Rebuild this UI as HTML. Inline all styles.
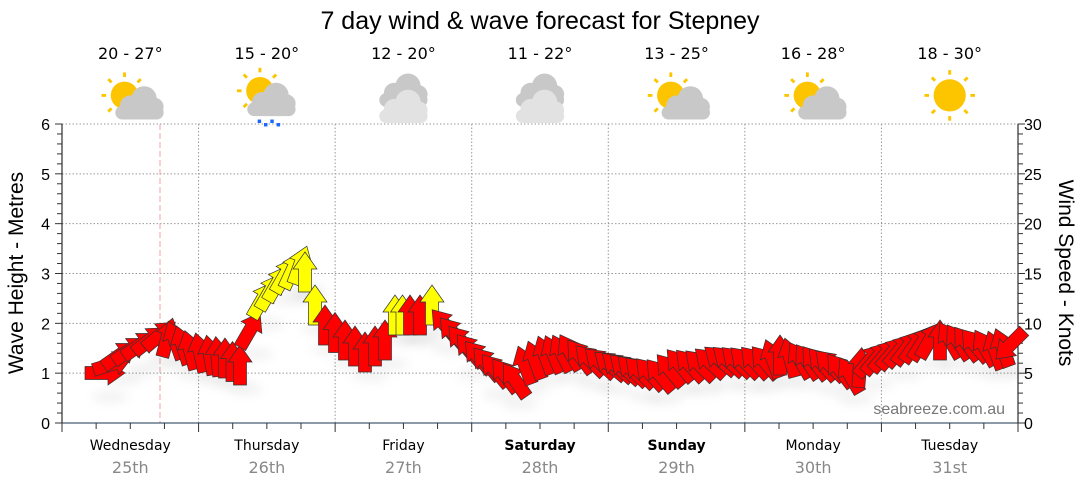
<!DOCTYPE html><html><head><style>body{margin:0;background:#fff}svg{display:block;font-family:"Liberation Sans",sans-serif}.v{font-family:"DejaVu Sans",sans-serif}</style></head><body>
<svg id="s" width="1080" height="490" xmlns="http://www.w3.org/2000/svg">
<defs><filter id="sh" x="-20%" y="-20%" width="140%" height="160%"><feGaussianBlur stdDeviation="5"/></filter></defs>
<text x="540" y="29" font-size="25" text-anchor="middle" fill="#000">7 day wind &amp; wave forecast for Stepney</text>
<g id="g"></g>
<text x="1005" y="414" font-size="16" fill="#777" text-anchor="end">seabreeze.com.au</text>
<text transform="translate(23,273) rotate(-90)" font-size="21" text-anchor="middle">Wave Height - Metres</text>
<text transform="translate(1059,273) rotate(90)" font-size="21" text-anchor="middle">Wind Speed - Knots</text>
</svg>
<script>
var g=document.getElementById('g'),h='';
var L=62,R=1018,T=124,B=423,D=136.57;
for(var i=1;i<=6;i++){var y=B-i*49.83;h+='<line x1="'+L+'" x2="'+R+'" y1="'+y+'" y2="'+y+'" stroke="#999" stroke-dasharray="1.5,2"/>';}
for(var i=1;i<7;i++){var x=L+i*D;h+='<line x1="'+x+'" x2="'+x+'" y1="'+T+'" y2="'+B+'" stroke="#999" stroke-dasharray="1.5,2"/>';}
h+='<line x1="160" x2="160" y1="'+T+'" y2="'+B+'" stroke="#f4a0a0" stroke-dasharray="6,3"/>';
h+='<line x1="'+L+'" x2="'+L+'" y1="'+T+'" y2="'+B+'" stroke="#000"/>';
h+='<line x1="'+R+'" x2="'+R+'" y1="'+T+'" y2="'+B+'" stroke="#000"/>';
h+='<line x1="'+L+'" x2="'+R+'" y1="'+B+'" y2="'+B+'" stroke="#1a3550"/>';
for(var i=0;i<=30;i++){var y=B-i*9.967;h+='<line x1="'+(i%5?L-5:L-7)+'" x2="'+L+'" y1="'+y+'" y2="'+y+'" stroke="#333"/>';h+='<line x1="'+R+'" x2="'+(i%5?R+5:R+7)+'" y1="'+y+'" y2="'+y+'" stroke="#333"/>';}
for(var i=0;i<=6;i++){h+='<text x="50" y="'+(B-i*49.83+6)+'" font-size="16" text-anchor="end">'+i+'</text>';h+='<text x="1024" y="'+(B-i*49.83+6)+'" font-size="16">'+(i*5)+'</text>';}
for(var i=0;i<=28;i++){var x=L+i*D/4;h+='<line x1="'+x+'" x2="'+x+'" y1="'+B+'" y2="'+(B+(i%4?6:9))+'" stroke="#333"/>';}
var days=['Wednesday','Thursday','Friday','Saturday','Sunday','Monday','Tuesday'],dt=['25th','26th','27th','28th','29th','30th','31st'],tp=['20 - 27°','15 - 20°','12 - 20°','11 - 22°','13 - 25°','16 - 28°','18 - 30°'];
var ic=['ps','pr','c','c','ps','ps','s'];
function sun(x,y,r){var s='';for(var k=0;k<8;k++){var a=k*Math.PI/4;s+='<line x1="'+(x+Math.cos(a)*(r+4))+'" y1="'+(y+Math.sin(a)*(r+4))+'" x2="'+(x+Math.cos(a)*(r+8))+'" y2="'+(y+Math.sin(a)*(r+8))+'" stroke="#fdc500" stroke-width="2.5"/>';}return s+'<circle cx="'+x+'" cy="'+y+'" r="'+r+'" fill="#fdc500"/>';}
function cloud(x,y,c){return '<g fill="'+c+'"><circle cx="'+(x-8)+'" cy="'+(y+2)+'" r="9"/><circle cx="'+(x+4)+'" cy="'+(y-4)+'" r="11"/><circle cx="'+(x+13)+'" cy="'+(y+3)+'" r="8"/><rect x="'+(x-21)+'" y="'+(y+2)+'" width="42" height="12" rx="6"/></g>';}
for(var i=0;i<7;i++){var cx=L+D*(i+0.5);
 h+='<text class="v" x="'+cx+'" y="'+(B+27)+'" font-size="14" text-anchor="middle"'+(i==3||i==4?' font-weight="bold"':'')+'>'+days[i]+'</text>';
 h+='<text class="v" x="'+cx+'" y="'+(B+50)+'" font-size="16" fill="#888" text-anchor="middle">'+dt[i]+'</text>';
 h+='<text class="v" x="'+cx+'" y="59" font-size="16" text-anchor="middle">'+tp[i]+'</text>';
 var t=ic[i],s='';
 if(t=='ps'){s=sun(cx-5,96,12)+cloud(cx+8,103,'#c8c8c8');}
 if(t=='pr'){s=sun(cx-6,92,12)+cloud(cx+4,100,'#c8c8c8');for(var k=0;k<4;k++)s+='<rect x="'+(cx-8+k*5.5)+'" y="'+(117+(k%2?3:0))+'" width="3" height="3" fill="#1a66ff"/>';}
 if(t=='c'){s=cloud(cx,92,'#c8c8c8')+cloud(cx,106,'#e2e2e2');}
 if(t=='s'){s=sun(cx,96,14);}
 h+='<g transform="translate('+cx+',100) scale(1.15) translate('+(-cx)+',-100)">'+s+'</g>';
}
var K=[[105,373,90,0],[120,355,55,0],[140,345,55,0],[160,335,50,0],[175,340,-20,0],[190,350,-15,0],[210,355,-10,0],[225,358,0,0],[240,365,0,0],[250,330,30,0],[262,300,30,1],[285,275,30,1],[300,265,20,1],[305,272,0,1],[315,305,0,1],[325,325,0,0],[345,340,0,0],[365,352,0,0],[385,340,0,0],[395,315,0,1],[410,315,0,0],[420,315,0,0],[432,305,0,1],[445,325,-40,0],[470,350,-40,0],[495,370,-40,0],[515,380,-35,0],[525,365,-20,0],[545,355,-20,0],[570,352,-30,0],[590,360,-45,0],[610,365,-50,0],[640,372,-45,0],[660,375,-40,0],[680,365,-40,0],[700,365,-45,0],[720,360,-50,0],[745,362,-45,0],[765,362,-40,0],[780,355,0,0],[800,360,-30,0],[830,365,-45,0],[850,375,-30,0],[870,360,40,0],[900,350,40,0],[930,340,30,0],[950,340,-30,0],[975,345,-40,0],[995,350,-20,0],[1010,345,225,0]];
var sh='',ar='';
function arrow(x,y,a,c){return '<polygon transform="translate('+x.toFixed(1)+','+y.toFixed(1)+') rotate('+a.toFixed(1)+')" points="0,-20 12,-3 6.5,-3 6.5,20 -6.5,20 -6.5,-3 -12,-3" fill="'+(c?'#ffff00':'#ff0000')+'" stroke="#333" stroke-width="0.7"/>';}
for(var i=0;i<K.length;i++){var k=K[i];ar+=arrow(k[0],k[1],k[2],k[3]);
 if(i<K.length-1){var n=K[i+1],dx=n[0]-k[0],m=Math.floor(dx/7);for(var j=1;j<m;j++){var f=j/m;ar+=arrow(k[0]+dx*f,k[1]+(n[1]-k[1])*f,(Math.abs(n[2]-k[2])>90?k[2]:k[2]+(n[2]-k[2])*f),k[3]);}}
 sh+='<ellipse cx="'+(k[0]+5)+'" cy="'+(k[1]+24)+'" rx="18" ry="6" fill="#000" opacity="0.05"/>';}
h+='<g filter="url(#sh)">'+sh+'</g>'+ar;
g.innerHTML=h;
</script>
</body></html>
